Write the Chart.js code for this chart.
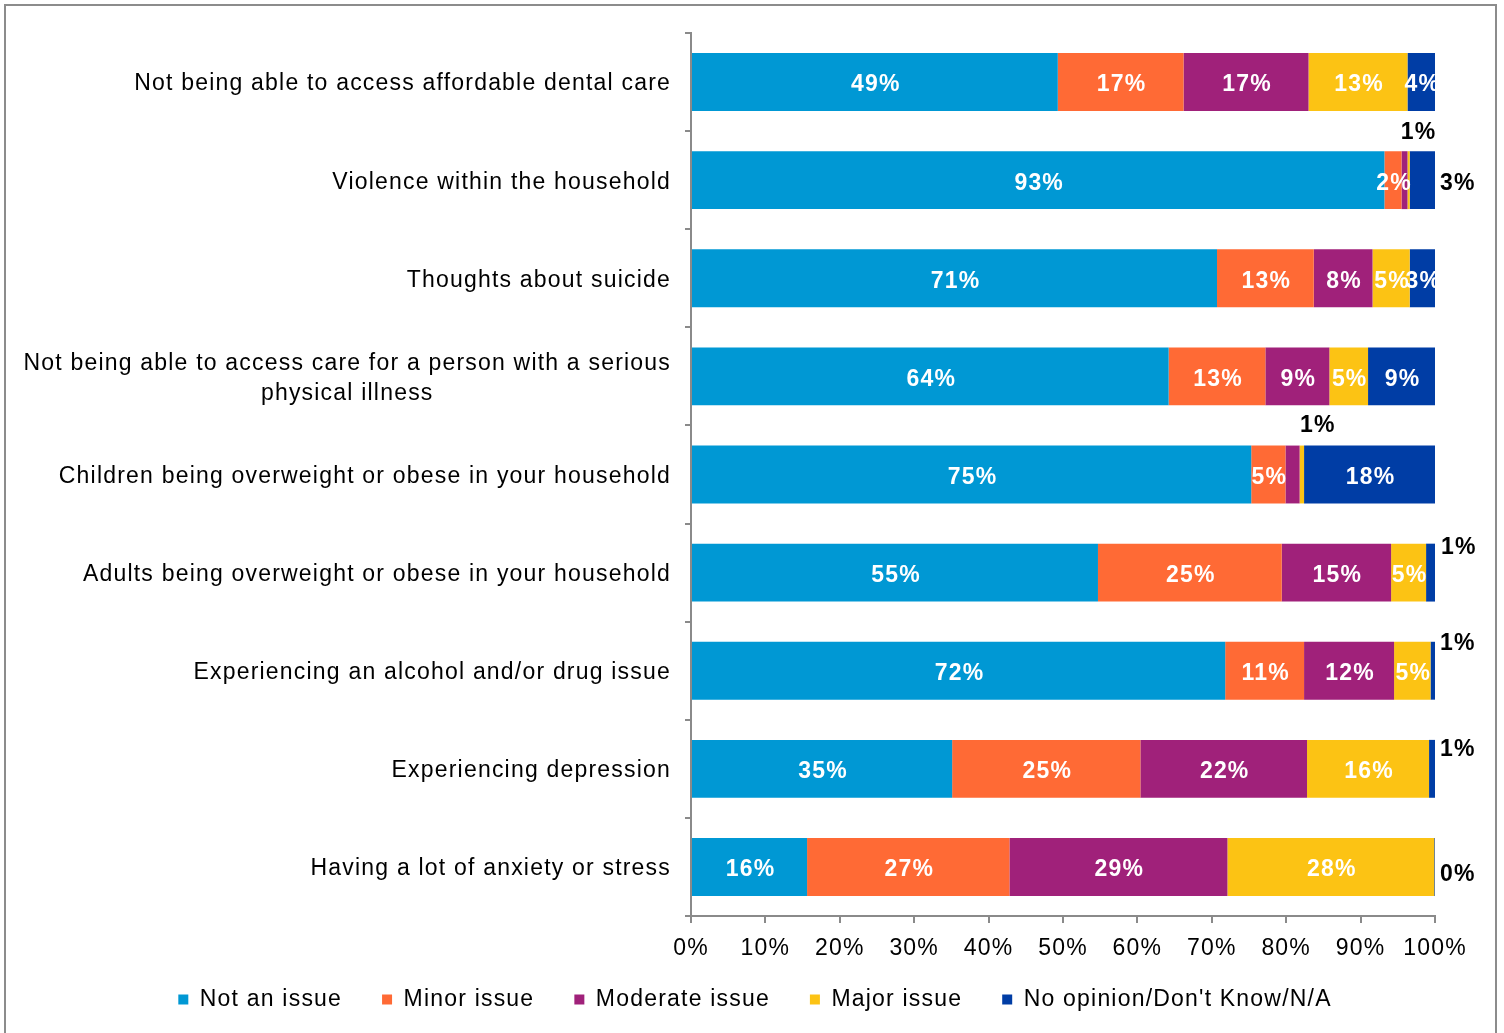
<!DOCTYPE html>
<html>
<head>
<meta charset="utf-8">
<script src="https://cdn.jsdelivr.net/npm/chart.js@4.4.1/dist/chart.umd.min.js"></script>
<style>
  html, body { margin: 0; padding: 0; background: #fff; }
  #frame { position: absolute; left: 4px; top: 4px; width: 1489px; height: 1100px;
           border: 2px solid #8c8c8c; border-bottom: none; }
  #wrap { position: absolute; left: 0; top: 0; width: 1504px; height: 1033px; }
</style>
</head>
<body>
<div id="frame"></div>
<div id="wrap"><canvas id="chart" width="1504" height="1033"></canvas></div>
<script>
// Survey items, top to bottom
const categories = [
  'Not being able to access affordable dental care',
  'Violence within the household',
  'Thoughts about suicide',
  ['Not being able to access care for a person with a serious', 'physical illness'],
  'Children being overweight or obese in your household',
  'Adults being overweight or obese in your household',
  'Experiencing an alcohol and/or drug issue',
  'Experiencing depression',
  'Having a lot of anxiety or stress'
];

// Share of respondents (%) per response
const notAnIssue    = [49.3, 93.2, 70.7, 64.2, 75.3, 54.7, 71.8, 35.1, 15.6];
const minorIssue    = [16.9,  2.3, 13.0, 13.0,  4.6, 24.7, 10.6, 25.3, 27.2];
const moderateIssue = [16.8,  0.8,  7.9,  8.6,  1.9, 14.7, 12.1, 22.4, 29.3];
const majorIssue    = [13.3,  0.3,  5.0,  5.2,  0.6,  4.7,  4.9, 16.4, 27.8];
const noOpinion     = [ 3.7,  3.4,  3.4,  9.0, 17.6,  1.2,  0.6,  0.8,  0.1];

const seriesNames = ['Not an issue', 'Minor issue', 'Moderate issue', 'Major issue', "No opinion/Don't Know/N/A"];
const xTicks = [0, 10, 20, 30, 40, 50, 60, 70, 80, 90, 100];

const colors = ['#0098d4', '#ff6a35', '#a0217a', '#fcc314', '#003da5'];
const FONT = "'Liberation Sans', Arial, sans-serif";
const FONT_SIZE = 23;
const SPACING = '1.2px';
const GREY = '#8a8a8a';

// Segments too narrow to carry their own label
const unlabeled = ['1-3', '4-2'];
// Labels moved outside their segment ("row-series" -> offset)
const labelPlacement = {
  '1-2': { dx: 14, dy: -48 },
  '1-4': { side: 'end', dx: 5, dy: 3 },
  '4-3': { dx: 16, dy: -49 },
  '5-4': { side: 'end', dx: 6, dy: -25 },
  '6-4': { side: 'end', dx: 5, dy: -27 },
  '7-4': { side: 'end', dx: 5, dy: -19 },
  '8-4': { side: 'end', dx: 5, dy: 8 }
};

const letterSpacing = {
  id: 'letterSpacing',
  beforeUpdate(chart) { chart.ctx.letterSpacing = SPACING; },
  beforeDraw(chart) { chart.ctx.letterSpacing = SPACING; }
};

// Category names: right-aligned blocks, extra lines centred under the first
const categoryLabels = {
  id: 'categoryLabels',
  afterDraw(chart) {
    const ctx = chart.ctx;
    const yScale = chart.scales.y;
    ctx.save();
    ctx.letterSpacing = SPACING;
    ctx.font = FONT_SIZE + 'px ' + FONT;
    ctx.fillStyle = '#000';
    ctx.textBaseline = 'middle';
    ctx.textAlign = 'center';
    const right = yScale.right - 20;
    categories.forEach((lab, i) => {
      const lines = Array.isArray(lab) ? lab : [lab];
      const w = Math.max(...lines.map(l => ctx.measureText(l).width));
      const yc = yScale.getPixelForValue(i);
      lines.forEach((l, k) => {
        ctx.fillText(l, right - w / 2, yc + 2 + (k - (lines.length - 1) / 2) * 30);
      });
    });
    ctx.restore();
  }
};

// Percentage labels on the segments
const segmentLabels = {
  id: 'segmentLabels',
  afterDatasetsDraw(chart) {
    const ctx = chart.ctx;
    ctx.save();
    ctx.letterSpacing = SPACING;
    ctx.font = 'bold ' + FONT_SIZE + 'px ' + FONT;
    ctx.textBaseline = 'middle';
    chart.data.datasets.forEach((ds, s) => {
      const meta = chart.getDatasetMeta(s);
      meta.data.forEach((bar, r) => {
        const key = r + '-' + s;
        if (unlabeled.includes(key)) return;
        const text = Math.round(ds.data[r]) + '%';
        const cx = (bar.x + bar.base) / 2;
        const place = labelPlacement[key];
        if (!place) {
          ctx.fillStyle = '#fff';
          ctx.textAlign = 'center';
          ctx.fillText(text, cx + 1, bar.y + 3);
        } else if (place.side === 'end') {
          ctx.fillStyle = '#000';
          ctx.textAlign = 'left';
          ctx.fillText(text, bar.x + place.dx, bar.y + place.dy);
        } else {
          ctx.fillStyle = '#000';
          ctx.textAlign = 'center';
          ctx.fillText(text, cx + place.dx, bar.y + place.dy);
        }
      });
    });
    ctx.restore();
  }
};

const seriesData = [notAnIssue, minorIssue, moderateIssue, majorIssue, noOpinion];

new Chart(document.getElementById('chart'), {
  type: 'bar',
  data: {
    labels: categories,
    datasets: seriesData.map((d, i) => ({
      label: seriesNames[i],
      data: d,
      backgroundColor: colors[i],
      borderWidth: 0,
      barPercentage: 0.59,
      categoryPercentage: 1.0
    }))
  },
  options: {
    indexAxis: 'y',
    responsive: false,
    animation: false,
    layout: { padding: { left: 75, right: 69, top: 33, bottom: 12 } },
    scales: {
      x: {
        stacked: true,
        min: 0,
        max: 100,
        afterBuildTicks(scale) { scale.ticks = xTicks.map(v => ({ value: v })); },
        afterFit(scale) {
          // keep the axis band short so the legend sits close; labels may extend below it
          scale.height = 32;
          scale._computeLabelArea = () => undefined;
        },
        ticks: {
          callback: v => v + '%',
          color: '#000',
          font: { family: FONT, size: FONT_SIZE },
          padding: 12,
          maxRotation: 0,
          autoSkip: false
        },
        grid: { drawOnChartArea: false, drawTicks: true, tickLength: 7, color: GREY, lineWidth: 2 },
        border: { display: true, color: GREY, width: 2 }
      },
      y: {
        stacked: true,
        afterFit(scale) { scale.width = 616; },
        ticks: { display: false },
        grid: { offset: true, drawOnChartArea: false, drawTicks: true, tickLength: 6, color: GREY, lineWidth: 2 },
        border: { display: true, color: GREY, width: 2 }
      }
    },
    plugins: {
      legend: {
        position: 'bottom',
        labels: {
          color: '#000',
          font: { family: FONT, size: FONT_SIZE },
          boxWidth: 10,
          boxHeight: 10,
          padding: 40
        }
      },
      tooltip: { enabled: false }
    }
  },
  plugins: [letterSpacing, categoryLabels, segmentLabels]
});
</script>
</body>
</html>
